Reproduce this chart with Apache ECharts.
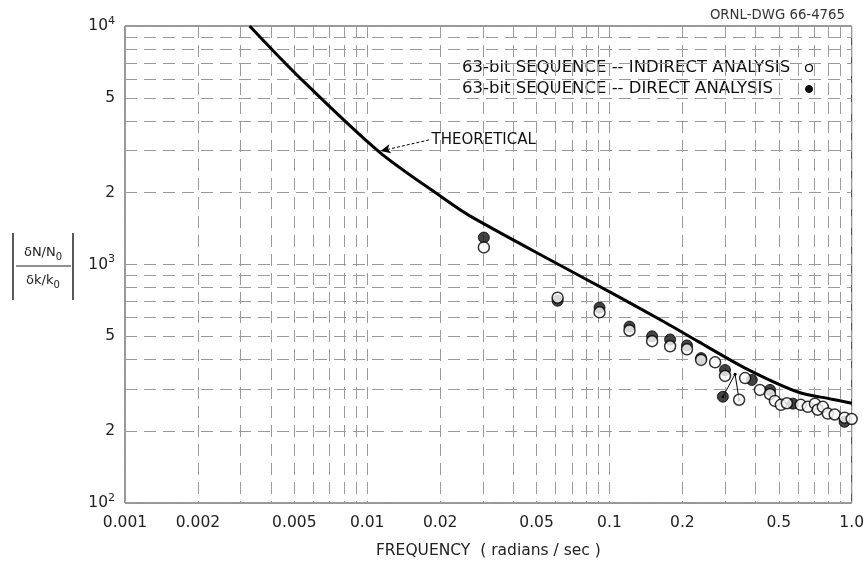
<!DOCTYPE html>
<html><head><meta charset="utf-8">
<script src="https://cdn.jsdelivr.net/npm/echarts@6/dist/echarts.min.js"></script>
<style>html,body{margin:0;padding:0;background:#fff}#c{width:867px;height:564px}</style>
</head><body><div id="c"></div>
<script>
// ---- tick labels ----
const xTickValues = [0.001, 0.002, 0.005, 0.01, 0.02, 0.05, 0.1, 0.2, 0.5, 1.0];
const xTickLabels = ['0.001', '0.002', '0.005', '0.01', '0.02', '0.05', '0.1', '0.2', '0.5', '1.0'];
const yTickValues = [100, 200, 500, 1000, 2000, 5000, 10000];
const yTickLabels = ['10{s|2}', '2', '5', '10{s|3}', '2', '5', '10{s|4}'];
// grid lines of the log paper
const xGridValues = [0.001,0.002,0.003,0.004,0.005,0.006,0.007,0.008,0.009,
                     0.01,0.02,0.03,0.04,0.05,0.06,0.07,0.08,0.09,
                     0.1,0.2,0.3,0.4,0.5,0.6,0.7,0.8,0.9,1.0];
const yGridValues = [100,200,300,400,500,600,700,800,900,
                     1000,2000,3000,4000,5000,6000,7000,8000,9000,10000];

// ---- series ----
const theoreticalFreq  = [0.00327, 0.00525, 0.0112, 0.0204, 0.0263, 0.0617, 0.102, 0.170, 0.232, 0.363, 0.600, 0.820, 1.0];
const theoreticalValue = [10000,   6085,    2965,   1910,   1607,   1000,   760,   571,   476,   368,   292,   273,   262];

const indirectFreq  = [0.0303, 0.0611, 0.091, 0.121, 0.150, 0.178, 0.209, 0.239, 0.273, 0.300, 0.343, 0.363, 0.418, 0.460, 0.482, 0.510, 0.540, 0.616, 0.659, 0.705, 0.724, 0.760, 0.797, 0.851, 0.935, 1.0];
const indirectValue = [1179,   726,    630,   529,   477,   454,   441,   398,   389,   341,   271,   334,   298,   286,   268,   258,   262,   258,   253,   261,   246,   253,   237,   235,   228,   225];

const directFreq  = [0.0303, 0.0611, 0.091, 0.121, 0.150, 0.178, 0.209, 0.239, 0.294, 0.300, 0.387, 0.460, 0.572, 0.935, 1.01];
const directValue = [1297,   705,    660,   549,   500,   485,   458,   405,   279,   361,   328,   298,   261,   219,   215];

// connector drawn between the two outlying points near 0.3 rad/s
const connectorFreq  = [0.294, 0.330, 0.343];
const connectorValue = [279,   347,   271];

// "THEORETICAL" label and arrow anchor (data space)
const theoLabelAt = [0.0180, 3330];
const theoArrowTip = [0.01135, 2990];

const indirectName = '63-bit SEQUENCE -- INDIRECT ANALYSIS';
const directName = '63-bit SEQUENCE -- DIRECT ANALYSIS';

const zip = (a, b) => a.map((v, i) => [v, b[i]]);
const lg = v => Math.round(Math.log10(v) * 1e9) / 1e9;
const FONT = '"DejaVu Sans", "Liberation Sans", sans-serif';
const gridLine = { show: true, lineStyle: { color: '#9a9a9a', width: 1, type: [12, 7] } };

const chart = echarts.init(document.getElementById('c'), null, { renderer: 'canvas' });
chart.setOption({
  backgroundColor: '#fff',
  animation: false,
  grid: { left: 125, right: 13, top: 26, bottom: 57, show: true, borderColor: '#333', borderWidth: 1, backgroundColor: 'transparent' },
  xAxis: [
    { type: 'log', logBase: 10, min: 0.001, max: 1, show: false },
    { type: 'value', min: -3, max: 0, position: 'bottom',
      axisLine: { show: false },
      axisTick: { show: false, customValues: xGridValues.map(lg) },
      splitLine: gridLine,
      axisLabel: { customValues: xTickValues.map(lg), margin: 12, fontSize: 15.5, color: '#222', fontFamily: FONT,
        formatter: v => { const i = xTickValues.findIndex(t => Math.abs(lg(t) - v) < 1e-6); return i >= 0 ? xTickLabels[i] : ''; } },
      name: 'FREQUENCY  ( radians / sec )', nameLocation: 'middle', nameGap: 40,
      nameTextStyle: { fontSize: 15.5, color: '#222', fontFamily: FONT } }
  ],
  yAxis: [
    { type: 'log', logBase: 10, min: 100, max: 10000, show: false },
    { type: 'value', min: 2, max: 4, position: 'left',
      axisLine: { show: false },
      axisTick: { show: false, customValues: yGridValues.map(lg) },
      splitLine: gridLine,
      axisLabel: { customValues: yTickValues.map(lg), margin: 10, fontSize: 15.5, color: '#222', fontFamily: FONT,
        rich: { s: { fontSize: 11, fontFamily: FONT, color: '#222', padding: [0, 0, 10, 0] } },
        formatter: v => { const i = yTickValues.findIndex(t => Math.abs(lg(t) - v) < 1e-6); return i >= 0 ? yTickLabels[i] : ''; } } }
  ],
  series: [
    { name: 'theoretical', type: 'line', xAxisIndex: 0, yAxisIndex: 0, smooth: 0.3, showSymbol: false, symbol: 'none',
      data: zip(theoreticalFreq, theoreticalValue), lineStyle: { color: '#000', width: 3 }, z: 3,
      markLine: { silent: true, symbol: ['none', 'arrow'], symbolSize: [7, 10],
        lineStyle: { color: '#000', width: 1, type: [3, 2] }, label: { show: false },
        data: [[{ coord: theoLabelAt }, { coord: theoArrowTip }]] },
      markPoint: { silent: true, symbol: 'circle', symbolSize: 1, itemStyle: { color: 'transparent' },
        label: { show: true, position: 'right', distance: 2, formatter: 'THEORETICAL', fontSize: 15, color: '#111', fontFamily: FONT },
        data: [{ coord: theoLabelAt }] } },
    { name: 'connector', type: 'line', xAxisIndex: 0, yAxisIndex: 0, data: zip(connectorFreq, connectorValue),
      symbol: 'circle', symbolSize: 3, showSymbol: true, itemStyle: { color: '#000' }, lineStyle: { color: '#000', width: 1 }, z: 4 },
    { name: directName, type: 'scatter', xAxisIndex: 0, yAxisIndex: 0, data: zip(directFreq, directValue),
      symbol: 'circle', symbolSize: 11, itemStyle: { color: '#111', borderColor: '#000', borderWidth: 1 }, z: 5 },
    { name: indirectName, type: 'scatter', xAxisIndex: 0, yAxisIndex: 0, data: zip(indirectFreq, indirectValue),
      symbol: 'circle', symbolSize: 11, itemStyle: { color: '#fff', borderColor: '#000', borderWidth: 1.5 }, z: 6 }
  ],
  graphic: [
    { type: 'text', right: 22, top: 9, style: { text: 'ORNL-DWG 66-4765', fontSize: 13.3, fill: '#333', fontFamily: FONT } },
    { type: 'text', left: 459, top: 58, style: { text: indirectName, fontSize: 16.5, fill: '#111', fontFamily: FONT, backgroundColor: '#fff', padding: [1, 3] } },
    { type: 'text', left: 459, top: 79, style: { text: directName, fontSize: 16.5, fill: '#111', fontFamily: FONT, backgroundColor: '#fff', padding: [1, 3] } },
    { type: 'circle', shape: { cx: 809, cy: 68, r: 3.5 }, style: { fill: '#fff', stroke: '#000', lineWidth: 1.2 } },
    { type: 'circle', shape: { cx: 809, cy: 89, r: 3.5 }, style: { fill: '#111', stroke: '#000', lineWidth: 1 } },
    // y-axis quantity |(δN/N0)/(δk/k0)|
    { type: 'line', shape: { x1: 13, y1: 233, x2: 13, y2: 300 }, style: { stroke: '#222', lineWidth: 1.5 } },
    { type: 'line', shape: { x1: 73, y1: 233, x2: 73, y2: 300 }, style: { stroke: '#222', lineWidth: 1.5 } },
    { type: 'line', shape: { x1: 16, y1: 266, x2: 71, y2: 266 }, style: { stroke: '#222', lineWidth: 1.2 } },
    { type: 'text', x: 43, y: 253, style: { text: 'δN/N{b|0}', align: 'center', verticalAlign: 'middle', fontSize: 13, fill: '#222', fontFamily: FONT,
        rich: { b: { fontSize: 10, padding: [8, 0, 0, 0], fontFamily: FONT, fill: '#222' } } } },
    { type: 'text', x: 43, y: 281, style: { text: 'δk/k{b|0}', align: 'center', verticalAlign: 'middle', fontSize: 13, fill: '#222', fontFamily: FONT,
        rich: { b: { fontSize: 10, padding: [8, 0, 0, 0], fontFamily: FONT, fill: '#222' } } } }
  ]
});
</script>
</body></html>
